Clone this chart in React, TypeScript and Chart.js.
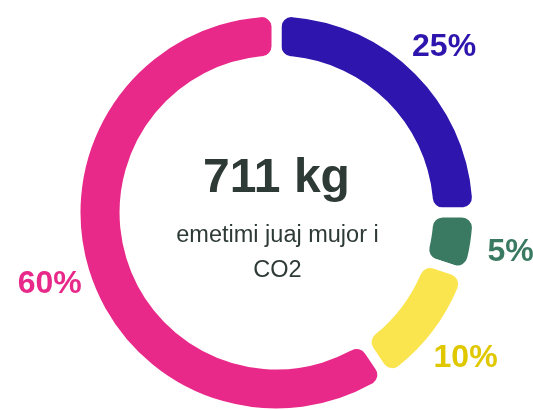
import React, { useEffect, useRef } from "react";
import { Chart, registerables } from "chart.js";

Chart.register(...registerables);

const categories = ["A", "B", "C", "D"];
const values = [25, 5, 10.6, 59.4];
const segmentColors = ["#2D15AD", "#3A7A62", "#FBE54E", "#E8298A"];
const labelColors = ["#2D15AD", "#3A7A62", "#E0C800", "#E8298A"];
const labelTexts = ["25%", "5%", "10%", "60%"];
const centerTitle = "711 kg";
const centerLines = ["emetimi juaj mujor i", "CO2"];

const textPlugin = {
  id: "centerAndLabels",
  afterDatasetsDraw(chart: any) {
    const ctx = chart.ctx;
    const meta = chart.getDatasetMeta(0);
    ctx.save();
    const size = 32;
    ctx.font = `bold ${size}px "Liberation Sans", Arial, sans-serif`;
    ctx.textAlign = "center";
    ctx.textBaseline = "alphabetic";
    meta.data.forEach((arc: any, i: number) => {
      const mid = (arc.startAngle + arc.endAngle) / 2;
      const r = 237;
      const x = arc.x + Math.cos(mid) * r;
      const y = arc.y + Math.sin(mid) * r;
      ctx.fillStyle = labelColors[i];
      ctx.fillText(labelTexts[i], x, y + size * 0.358);
    });
    const a0: any = meta.data[0];
    const cx = a0.x;
    const cy = a0.y;
    ctx.fillStyle = "#2E3A36";
    ctx.font = `bold 48px "Liberation Sans", Arial, sans-serif`;
    ctx.fillText(centerTitle, cx, cy - 21);
    ctx.font = `23.5px "Liberation Sans", Arial, sans-serif`;
    centerLines.forEach((line, i) => {
      ctx.fillText(line, cx + 1, cy + 29 + i * 35);
    });
    ctx.restore();
  },
};

export default function App() {
  const ref = useRef<HTMLCanvasElement | null>(null);
  useEffect(() => {
    if (!ref.current) return;
    const chart = new Chart(ref.current, {
      type: "doughnut",
      data: {
        labels: categories,
        datasets: [
          {
            data: values,
            backgroundColor: segmentColors,
            borderWidth: 10,
            borderColor: "#ffffff",
            borderRadius: 15,
            spacing: 0,
          },
        ],
      },
      options: {
        responsive: false,
        animation: false,
        radius: 201,
        cutout: "75.6%",
        layout: { padding: { left: 20, right: 0, top: 15, bottom: 0 } },
        plugins: {
          legend: { display: false },
          tooltip: { enabled: false },
        },
      } as any,
      plugins: [textPlugin],
    });
    return () => chart.destroy();
  }, []);
  return (
    <div style={{ position: "fixed", left: 0, top: 0, width: 533, height: 410, background: "#fff" }}>
      <canvas ref={ref} width={533} height={410} />
    </div>
  );
}
